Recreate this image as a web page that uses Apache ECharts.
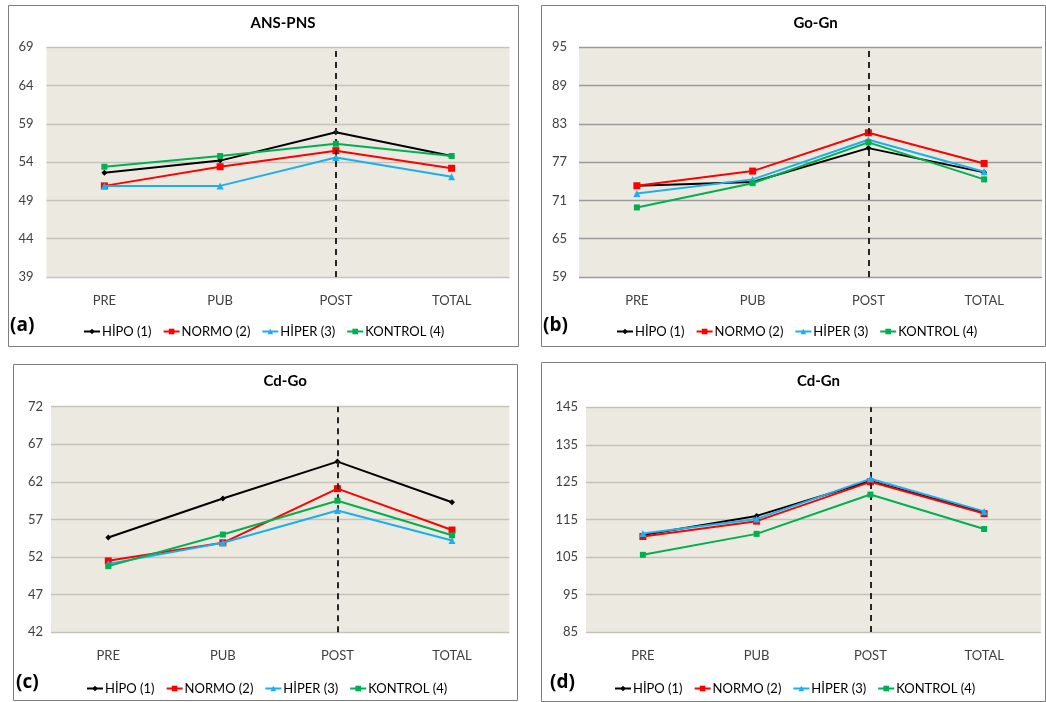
<!DOCTYPE html>
<html>
<head>
<meta charset="utf-8">
<script src="https://cdn.jsdelivr.net/npm/echarts@6/dist/echarts.min.js"></script>
<style>html,body{margin:0;padding:0;background:#fff;}#c{width:1046px;height:702px;}</style>
</head>
<body>
<div id="c"></div>
<script>
const categories = ['PRE', 'PUB', 'POST', 'TOTAL'];
const seriesNames = ['HİPO (1)', 'NORMO (2)', 'HİPER (3)', 'KONTROL (4)'];
const panelTitles = ['ANS-PNS', 'Go-Gn', 'Cd-Go', 'Cd-Gn'];
const panelLetters = ['(a)', '(b)', '(c)', '(d)'];
const yMin = [39, 59, 42, 85];
const yMax = [69, 95, 72, 145];
const yStep = [5, 6, 5, 10];

// ANS-PNS
const ansHipo = [52.6, 54.2, 57.9, 54.8];
const ansNormo = [50.9, 53.4, 55.5, 53.2];
const ansHiper = [50.9, 50.9, 54.6, 52.1];
const ansKontrol = [53.4, 54.8, 56.4, 54.8];
// Go-Gn
const gogHipo = [73.3, 73.9, 79.2, 75.4];
const gogNormo = [73.3, 75.6, 81.6, 76.8];
const gogHiper = [72.1, 74.3, 80.5, 75.5];
const gogKontrol = [69.9, 73.7, 80.1, 74.3];
// Cd-Go
const cdgHipo = [54.6, 59.8, 64.7, 59.3];
const cdgNormo = [51.5, 53.9, 61.1, 55.6];
const cdgHiper = [51.1, 53.9, 58.2, 54.2];
const cdgKontrol = [50.8, 55.0, 59.5, 54.9];
// Cd-Gn
const cdnHipo = [110.9, 116.0, 125.3, 116.9];
const cdnNormo = [110.5, 114.6, 125.1, 116.6];
const cdnHiper = [111.3, 115.2, 125.9, 117.2];
const cdnKontrol = [105.6, 111.2, 121.7, 112.5];

const panelData = [
  [ansHipo, ansNormo, ansHiper, ansKontrol],
  [gogHipo, gogNormo, gogHiper, gogKontrol],
  [cdgHipo, cdgNormo, cdgHiper, cdgKontrol],
  [cdnHipo, cdnNormo, cdnHiper, cdnKontrol]
];

const colors = ['#000000', '#FF0000', '#1AB0EE', '#00B050'];
const symbols = ['diamond', 'rect', 'triangle', 'rect'];
const symbolSizes = [6, 7, 7, 6];

const FONT = 'Lato, "Open Sans", sans-serif';

// layout
const boxes = [
  {x: 8, y: 5, w: 510, h: 341},
  {x: 541, y: 5, w: 504, h: 341},
  {x: 13, y: 364, w: 504, h: 336},
  {x: 541, y: 362, w: 504, h: 339}
];
const grids = [
  {left: 46.5, top: 47.3, width: 463, height: 229.7},
  {left: 579, top: 47.3, width: 463, height: 229.7},
  {left: 51, top: 406.7, width: 458.3, height: 225.6},
  {left: 586, top: 407.3, width: 455, height: 224.7}
];
const labelMargins = [13, 12, 8, 8];
const legendPos = [{x: 78, y: 320}, {x: 611, y: 320}, {x: 81, y: 677}, {x: 609, y: 677}];
const letterPos = [{x: 10, y: 316}, {x: 543, y: 316}, {x: 16, y: 673}, {x: 550, y: 673}];

const option = {
  animation: false,
  backgroundColor: '#ffffff',
  title: [],
  legend: [],
  grid: [],
  xAxis: [],
  yAxis: [],
  series: [],
  graphic: []
};

for (let p = 0; p < 4; p++) {
  const b = boxes[p];
  option.graphic.push({
    type: 'rect', z: -10,
    shape: {x: b.x + 0.5, y: b.y + 0.5, width: b.w, height: b.h},
    style: {fill: '#ffffff', stroke: '#7f7f7f', lineWidth: 1}
  });
  const g = grids[p];
  option.grid.push({left: g.left, top: g.top, width: g.width, height: g.height,
    show: true, backgroundColor: '#ECEAE0', borderWidth: 0});
  option.title.push({
    text: panelTitles[p],
    left: g.left + g.width / 2, top: p < 2 ? 11 : 369, textAlign: 'center',
    textStyle: {fontFamily: FONT, fontSize: 15, fontWeight: 'bold', color: '#000'}
  });
  option.title.push({
    text: panelLetters[p], padding: 0,
    left: letterPos[p].x, top: letterPos[p].y,
    textStyle: {fontFamily: '"Open Sans", Lato, sans-serif', fontSize: 19, fontWeight: 'bold', color: '#000'}
  });
  option.xAxis.push({
    type: 'category', gridIndex: p, data: categories, boundaryGap: true,
    axisLine: {show: false}, axisTick: {show: false},
    axisLabel: {fontFamily: FONT, fontSize: 13, color: '#404040', margin: 17}
  });
  option.yAxis.push({
    type: 'value', gridIndex: p, min: yMin[p], max: yMax[p], interval: yStep[p],
    axisLine: {show: false}, axisTick: {show: false},
    axisLabel: {fontFamily: FONT, fontSize: 13, color: '#404040', margin: labelMargins[p]},
    splitLine: {show: true, lineStyle: {color: p === 1 ? '#9a9a9a' : '#c4c2ba', width: 1.3}}
  });
  option.legend.push({
    data: seriesNames,
    left: legendPos[p].x, top: legendPos[p].y,
    itemWidth: 16, itemHeight: 7, itemGap: 11,
    textStyle: {fontFamily: FONT, fontSize: 13, color: '#000', padding: [0, 0, 0, -3]}
  });
  for (let s = 0; s < 4; s++) {
    const ser = {
      name: seriesNames[s], type: 'line', xAxisIndex: p, yAxisIndex: p,
      data: panelData[p][s],
      symbol: symbols[s], symbolSize: symbolSizes[s], showSymbol: true,
      lineStyle: {color: colors[s], width: 2},
      itemStyle: {color: colors[s], borderWidth: 0},
      z: 3 + s
    };
    if (s === 0) {
      ser.markLine = {
        silent: true, symbol: 'none', label: {show: false},
        lineStyle: {color: '#262626', type: [6, 5], width: 2},
        data: [{xAxis: 'POST'}]
      };
    }
    option.series.push(ser);
  }
}

const chart = echarts.init(document.getElementById('c'), null, {renderer: 'canvas'});
chart.setOption(option);
</script>
</body>
</html>
